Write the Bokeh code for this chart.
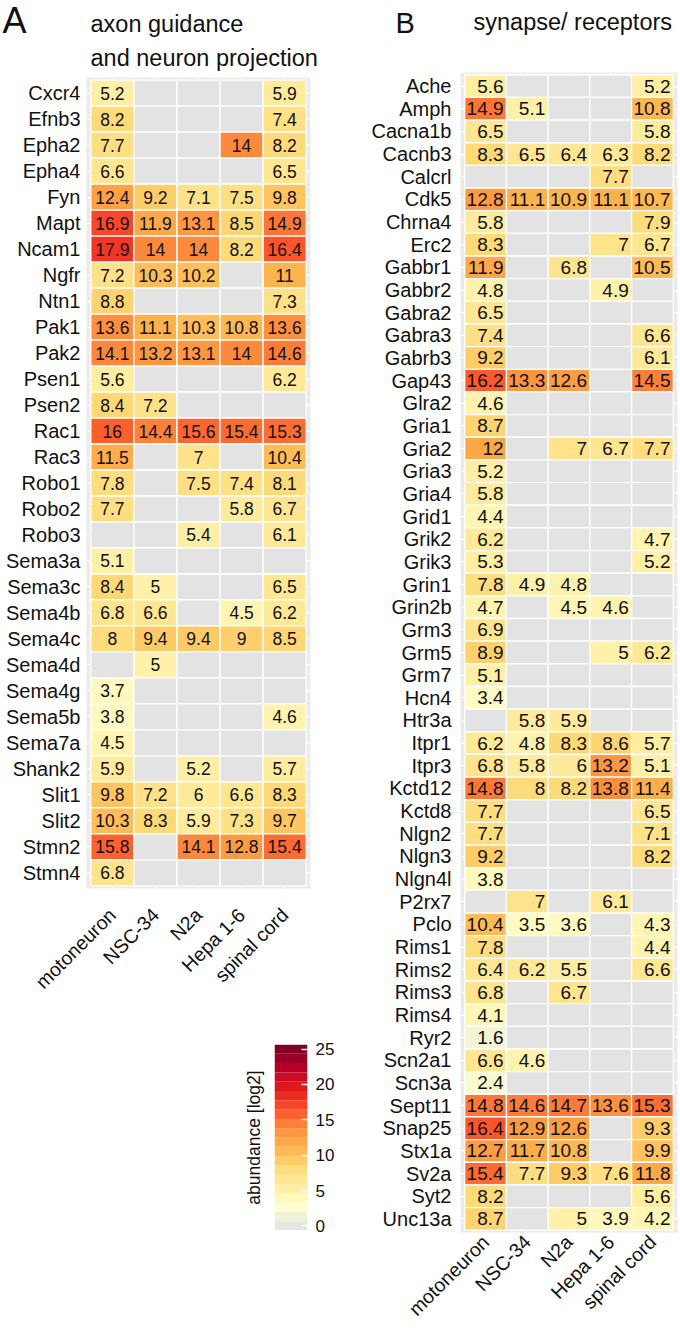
import math
import numpy as np
from bokeh.plotting import figure
from bokeh.models import (ColumnDataSource, FactorRange, Range1d, LinearAxis,
                          FixedTicker)
from bokeh.layouts import row, column
from bokeh.transform import linear_cmap
from bokeh.embed import file_html
from bokeh.resources import INLINE
from bokeh.core.properties import value

NA = None

samples = ["motoneuron", "NSC-34", "N2a", "Hepa 1-6", "spinal cord"]

# ---------------- panel A: axon guidance and neuron projection
title_a_letter = "A"
title_a_lines = ["axon guidance", "and neuron projection"]
genes_a = ["Cxcr4", "Efnb3", "Epha2", "Epha4", "Fyn", "Mapt", "Ncam1", "Ngfr",
           "Ntn1", "Pak1", "Pak2", "Psen1", "Psen2", "Rac1", "Rac3", "Robo1",
           "Robo2", "Robo3", "Sema3a", "Sema3c", "Sema4b", "Sema4c", "Sema4d",
           "Sema4g", "Sema5b", "Sema7a", "Shank2", "Slit1", "Slit2", "Stmn2",
           "Stmn4"]
a_motoneuron = [5.2, 8.2, 7.7, 6.6, 12.4, 16.9, 17.9, 7.2, 8.8, 13.6, 14.1, 5.6,
                8.4, 16, 11.5, 7.8, 7.7, NA, 5.1, 8.4, 6.8, 8, NA, 3.7, 3.8, 4.5,
                5.9, 9.8, 10.3, 15.8, 6.8]
a_nsc34 = [NA, NA, NA, NA, 9.2, 11.9, 14, 10.3, NA, 11.1, 13.2, NA, 7.2, 14.4,
           NA, NA, NA, NA, NA, 5, 6.6, 9.4, 5, NA, NA, NA, NA, 7.2, 8.3, NA, NA]
a_n2a = [NA, NA, NA, NA, 7.1, 13.1, 14, 10.2, NA, 10.3, 13.1, NA, NA, 15.6, 7,
         7.5, NA, 5.4, NA, NA, NA, 9.4, NA, NA, NA, NA, 5.2, 6, 5.9, 14.1, NA]
a_hepa = [NA, NA, 14, NA, 7.5, 8.5, 8.2, NA, NA, 10.8, 14, NA, NA, 15.4, NA,
          7.4, 5.8, NA, NA, NA, 4.5, 9, NA, NA, NA, NA, NA, 6.6, 7.3, 12.8, NA]
a_spinal = [5.9, 7.4, 8.2, 6.5, 9.8, 14.9, 16.4, 11, 7.3, 13.6, 14.6, 6.2, NA,
            15.3, 10.4, 8.1, 6.7, 6.1, NA, 6.5, 6.2, 8.5, NA, NA, 4.6, NA, 5.7,
            8.3, 9.7, 15.4, NA]

# ---------------- panel B: synapse/ receptors
title_b_letter = "B"
title_b_lines = ["synapse/ receptors"]
genes_b = ["Ache", "Amph", "Cacna1b", "Cacnb3", "Calcrl", "Cdk5", "Chrna4",
           "Erc2", "Gabbr1", "Gabbr2", "Gabra2", "Gabra3", "Gabrb3", "Gap43",
           "Glra2", "Gria1", "Gria2", "Gria3", "Gria4", "Grid1", "Grik2",
           "Grik3", "Grin1", "Grin2b", "Grm3", "Grm5", "Grm7", "Hcn4", "Htr3a",
           "Itpr1", "Itpr3", "Kctd12", "Kctd8", "Nlgn2", "Nlgn3", "Nlgn4l",
           "P2rx7", "Pclo", "Rims1", "Rims2", "Rims3", "Rims4", "Ryr2",
           "Scn2a1", "Scn3a", "Sept11", "Snap25", "Stx1a", "Sv2a", "Syt2",
           "Unc13a"]
b_motoneuron = [5.6, 14.9, 6.5, 8.3, NA, 12.8, 5.8, 8.3, 11.9, 4.8, 6.5, 7.4,
                9.2, 16.2, 4.6, 8.7, 12, 5.2, 5.8, 4.4, 6.2, 5.3, 7.8, 4.7, 6.9,
                8.9, 5.1, 3.4, NA, 6.2, 6.8, 14.8, 7.7, 7.7, 9.2, 3.8, NA, 10.4,
                7.8, 6.4, 6.8, 4.1, 1.6, 6.6, 2.4, 14.8, 16.4, 12.7, 15.4, 8.2,
                8.7]
b_nsc34 = [NA, 5.1, NA, 6.5, NA, 11.1, NA, NA, NA, NA, NA, NA, NA, 13.3, NA, NA,
           NA, NA, NA, NA, NA, NA, 4.9, NA, NA, NA, NA, NA, 5.8, 4.8, 5.8, 8,
           NA, NA, NA, NA, 7, 3.5, NA, 6.2, NA, NA, NA, 4.6, NA, 14.6, 12.9,
           11.7, 7.7, NA, NA]
b_n2a = [NA, NA, NA, 6.4, NA, 10.9, NA, NA, 6.8, NA, NA, NA, NA, 12.6, NA, NA,
         7, NA, NA, NA, NA, NA, 4.8, 4.5, NA, NA, NA, NA, 5.9, 8.3, 6, 8.2, NA,
         NA, NA, NA, NA, 3.6, NA, 5.5, 6.7, NA, NA, NA, NA, 14.7, 12.6, 10.8,
         9.3, NA, 5]
b_hepa = [NA, NA, NA, 6.3, 7.7, 11.1, NA, 7, NA, 4.9, NA, NA, NA, NA, NA, NA,
          6.7, NA, NA, NA, NA, NA, NA, 4.6, NA, 5, NA, NA, NA, 8.6, 13.2, 13.8,
          NA, NA, NA, NA, 6.1, NA, NA, NA, NA, NA, NA, NA, NA, 13.6, NA, NA,
          7.6, NA, 3.9]
b_spinal = [5.2, 10.8, 5.8, 8.2, NA, 10.7, 7.9, 6.7, 10.5, NA, NA, 6.6, 6.1,
            14.5, NA, NA, 7.7, NA, NA, NA, 4.7, 5.2, NA, NA, NA, 6.2, NA, NA, NA,
            5.7, 5.1, 11.4, 6.5, 7.1, 8.2, NA, NA, 4.3, 4.4, 6.6, NA, NA, NA, NA,
            NA, 15.3, 9.3, 9.9, 11.8, 5.6, 4.2]

legend_title = "abundance [log2]"
legend_ticks = [0, 5, 10, 15, 20, 25]
legend_bins = 20
scale_low, scale_high = 0, 25
scale_colors = ["#E5E5E5", "#FFFFCC", "#FFEDA0", "#FED976", "#FEB24C",
                "#FD8D3C", "#FC4E2A", "#E31A1C", "#BD0026", "#800026"]

FONT = "Liberation Sans"
INK = "#111111"
NA_FILL = "#E3E3E3"
PANEL_BG = "#EBEBEB"
TOTAL_H = 1327
MID = 0.3465  # distance from the text baseline to the em-box middle, in em


def gradient(v):
    t = (v - scale_low) / (scale_high - scale_low) * (len(scale_colors) - 1)
    t = min(max(t, 0), len(scale_colors) - 1)
    i = min(int(math.floor(t)), len(scale_colors) - 2)
    f = t - i
    c1 = [int(scale_colors[i][k:k + 2], 16) for k in (1, 3, 5)]
    c2 = [int(scale_colors[i + 1][k:k + 2], 16) for k in (1, 3, 5)]
    c = [round(a + (b - a) * f) for a, b in zip(c1, c2)]
    return "#%02x%02x%02x" % tuple(c)


cell_palette = [gradient(scale_low + (scale_high - scale_low) * k / 255) for k in range(256)]


def make_source(genes, cols):
    xs, ys, vs, labels = [], [], [], []
    for s, vals in zip(samples, cols):
        for g, v in zip(genes, vals):
            xs.append(s)
            ys.append(g)
            vs.append(np.nan if v is None else float(v))
            labels.append("" if v is None else f"{v:g}")
    return ColumnDataSource(dict(sample=xs, gene=ys, val=np.array(vs), label=labels))


def header(width, height, letter, letter_x, letter_base, letter_px, lines, lines_x,
           lines_base, line_gap, lines_px=23.5):
    """Title strip above a heatmap; data units = pixels from the top-left."""
    h = figure(frame_width=width, frame_height=height, x_range=Range1d(0, width),
               y_range=Range1d(height, 0), x_axis_location=None, y_axis_location=None,
               min_border=0, title=None, toolbar_location=None, output_backend="svg",
               frame_align=False)
    h.outline_line_color = None
    h.grid.visible = False
    h.text(x=[letter_x], y=[letter_base - MID * letter_px], text=[letter],
           text_baseline="middle", text_font=value(FONT),
           text_font_size=f"{letter_px}px", text_color=INK)
    h.text(x=[lines_x] * len(lines),
           y=[lines_base + i * line_gap - MID * lines_px for i in range(len(lines))],
           text=lines, text_baseline="middle", text_font=value(FONT),
           text_font_size=f"{lines_px}px", text_color=INK)
    return h


def heat_panel(genes, cols, fw, fh, bl, br, bb, cell_font, row_standoff, col_standoff,
               text_align, x_off):
    p = figure(x_range=FactorRange(*samples, range_padding=0.1, range_padding_units="absolute"),
               y_range=FactorRange(*genes[::-1], range_padding=0.1, range_padding_units="absolute"),
               frame_width=fw, frame_height=fh, min_border_left=bl, min_border_right=br,
               min_border_top=0, min_border_bottom=bb, title=None, toolbar_location=None,
               output_backend="svg", background_fill_color=PANEL_BG, frame_align=False)
    src = make_source(genes, cols)
    p.rect(x="sample", y="gene", width=1, height=1, source=src,
           fill_color=linear_cmap("val", cell_palette, scale_low, scale_high, nan_color=NA_FILL),
           line_color="white", line_width=1.3)
    p.text(x="sample", y="gene", text="label", source=src, text_align=text_align,
           text_baseline="middle", x_offset=x_off, text_font=value(FONT),
           text_font_size=cell_font, text_color=INK)
    p.outline_line_color = None
    p.grid.grid_line_color = "white"
    p.grid.grid_line_width = 1
    p.axis.axis_line_color = None
    p.axis.major_tick_line_color = None
    p.axis.minor_tick_line_color = None
    p.axis.major_tick_out = 0
    p.axis.major_tick_in = 0
    p.axis.major_label_text_font = FONT
    p.axis.major_label_text_color = INK
    p.yaxis.major_label_text_font_size = "20px"
    p.yaxis.major_label_standoff = row_standoff
    p.xaxis.major_label_text_font_size = "19.5px"
    p.xaxis.major_label_orientation = math.pi / 4
    p.xaxis.major_label_standoff = col_standoff
    return p


# ---------------- Panel A
hA = header(340, 77, title_a_letter, 2, 32, 36, title_a_lines, 90, 32, 34)
pA = heat_panel(genes_a, [a_motoneuron, a_nsc34, a_n2a, a_hepa, a_spinal],
                224, 811, 86, 30, 122, "17.5px", 6, 23, "center", 0)

# colour legend: a small stepped bar drawn through its own value scale
half_bin = (scale_high - scale_low) / (legend_bins - 1) / 2
bin_values = [scale_low + (scale_high - scale_low) * k / (legend_bins - 1)
              for k in range(legend_bins)]
lA = figure(frame_width=33, frame_height=186, x_range=Range1d(0, 1),
            y_range=Range1d(scale_low - half_bin, scale_high + half_bin),
            min_border_left=274, min_border_right=33, min_border_top=34,
            min_border_bottom=TOTAL_H - 77 - 933 - 34 - 186, title=None,
            toolbar_location=None, output_backend="svg",
            x_axis_location=None, y_axis_location="right", frame_align=False)
lA.rect(x=0.5, y="v", width=1, height=2 * half_bin,
        source=ColumnDataSource(dict(v=bin_values)),
        fill_color=linear_cmap("v", cell_palette, scale_low, scale_high), line_color=None)
lA.outline_line_color = None
lA.grid.visible = False
lA.yaxis.ticker = FixedTicker(ticks=legend_ticks)
lA.yaxis.axis_line_color = None
lA.yaxis.major_tick_line_color = "white"
lA.yaxis.major_tick_line_width = 1.5
lA.yaxis.major_tick_in = 6
lA.yaxis.major_tick_out = 0
lA.yaxis.minor_tick_line_color = None
lA.yaxis.major_label_standoff = 8
lA.yaxis.major_label_text_font = FONT
lA.yaxis.major_label_text_font_size = "17px"
lA.yaxis.major_label_text_color = INK
lA.add_layout(LinearAxis(axis_label=legend_title, ticker=FixedTicker(ticks=[]),
                         axis_line_color=None, major_tick_line_color=None,
                         minor_tick_line_color=None, major_tick_out=0,
                         major_label_standoff=0, axis_label_standoff=11,
                         axis_label_text_font=FONT, axis_label_text_font_size="17.5px",
                         axis_label_text_font_style="normal", axis_label_text_color=INK),
              "left")

# ---------------- Panel B
hB = header(338, 72, title_b_letter, 55, 33, 29, title_b_lines, 133, 30, 34)
pB = heat_panel(genes_b, [b_motoneuron, b_nsc34, b_n2a, b_hepa, b_spinal],
                217, 1160, 120, 1, TOTAL_H - 72 - 1160, "19px", 9, 6, "right", 18)

layout = row(column(hA, pA, lA), column(hB, pB))
open("out.html", "w").write(file_html(layout, INLINE))
